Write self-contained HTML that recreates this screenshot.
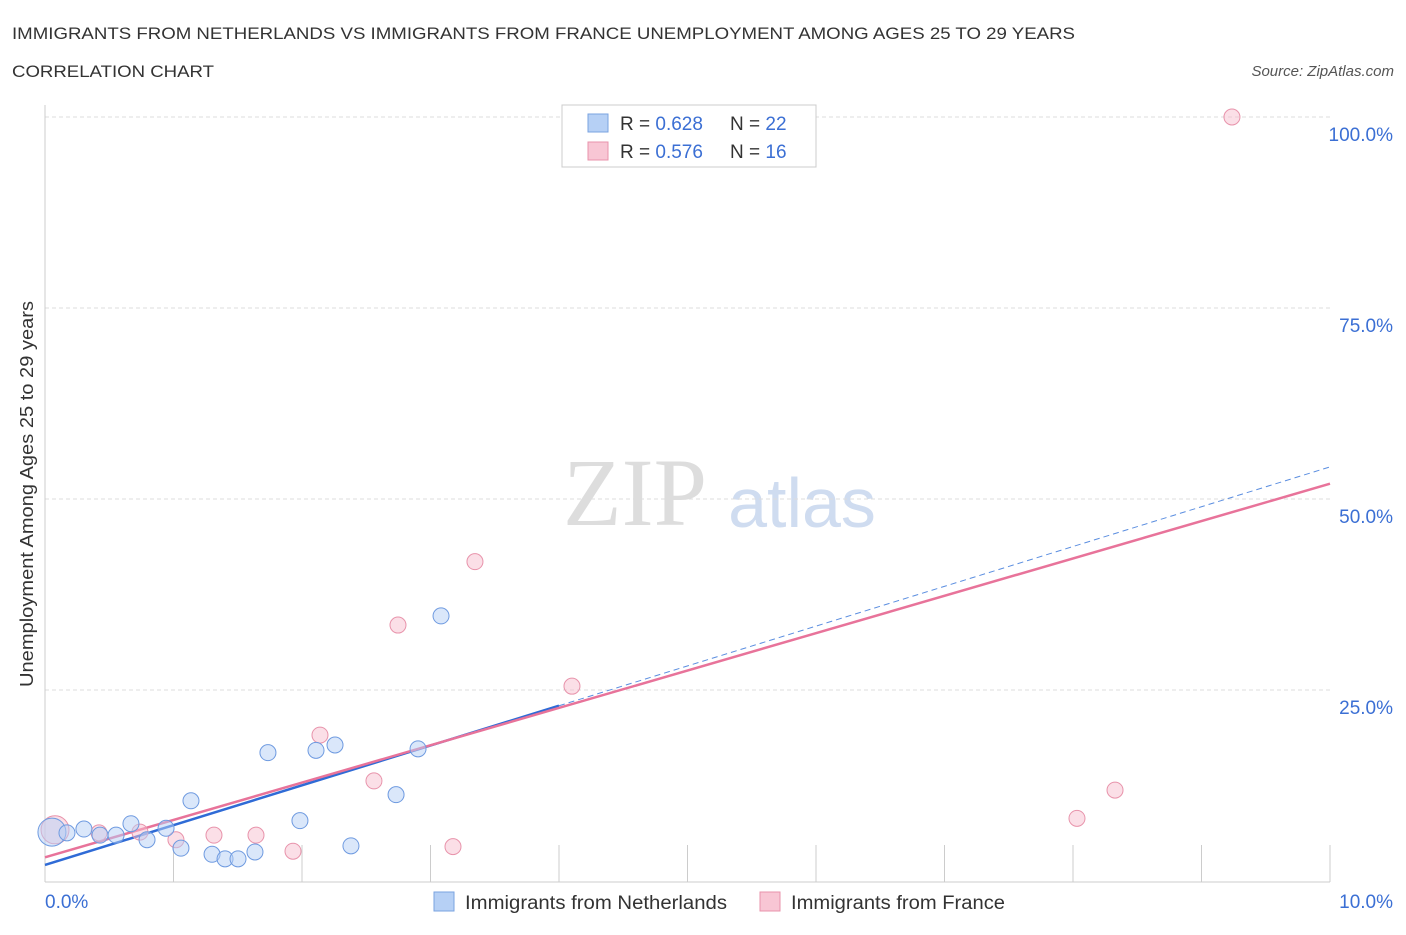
<!DOCTYPE html>
<html><head><meta charset="utf-8"><style>
body{margin:0;background:#fff;font-family:"Liberation Sans",sans-serif;}
</style></head><body>
<svg width="1406" height="930" viewBox="0 0 1406 930" font-family="Liberation Sans, sans-serif">
<text x="12" y="39" font-size="17" fill="#333" textLength="1063" lengthAdjust="spacingAndGlyphs">IMMIGRANTS FROM NETHERLANDS VS IMMIGRANTS FROM FRANCE UNEMPLOYMENT AMONG AGES 25 TO 29 YEARS</text>
<text x="12" y="77" font-size="17" fill="#333" textLength="202" lengthAdjust="spacingAndGlyphs">CORRELATION CHART</text>
<text x="1394" y="76" font-size="15" fill="#555" font-style="italic" text-anchor="end">Source: ZipAtlas.com</text>
<text x="635" y="525" font-size="96" fill="#ddd" style="font-family:'Liberation Serif',serif" text-anchor="middle">ZIP</text>
<text x="802" y="527" font-size="70" fill="#cfdcf0" text-anchor="middle">atlas</text>
<g id="grid"></g>
<line x1="45" y1="105" x2="45" y2="882" stroke="#ccc"/>
<line x1="45" y1="882" x2="1330" y2="882" stroke="#ccc"/>
<g id="xticks"></g>
<text transform="translate(33,494) rotate(-90)" font-size="18" fill="#333" text-anchor="middle" textLength="386" lengthAdjust="spacingAndGlyphs">Unemployment Among Ages 25 to 29 years</text>
<text x="45" y="908" font-size="19" fill="#3b6fd4">0.0%</text>
<text x="1393" y="908" font-size="19" fill="#3b6fd4" text-anchor="end">10.0%</text>
<g id="lines"></g>
<g id="points"></g>
<g>
<rect x="562" y="105" width="254" height="62" fill="#fff" stroke="#ccc"/>
<rect x="588" y="114" width="20" height="18" fill="#b6d0f5" stroke="#7aa3e0"/>
<rect x="588" y="142" width="20" height="18" fill="#f8c6d4" stroke="#e893ab"/>
<text x="620" y="130" font-size="19" fill="#333">R = <tspan fill="#3b6fd4">0.628</tspan></text>
<text x="730" y="130" font-size="19" fill="#333">N = <tspan fill="#3b6fd4">22</tspan></text>
<text x="620" y="158" font-size="19" fill="#333">R = <tspan fill="#3b6fd4">0.576</tspan></text>
<text x="730" y="158" font-size="19" fill="#333">N = <tspan fill="#3b6fd4">16</tspan></text>
</g>
<g>
<rect x="434" y="892" width="20" height="19" fill="#b6d0f5" stroke="#7aa3e0"/>
<text x="465" y="909" font-size="19" fill="#333" textLength="262" lengthAdjust="spacingAndGlyphs">Immigrants from Netherlands</text>
<rect x="760" y="892" width="20" height="19" fill="#f8c6d4" stroke="#e893ab"/>
<text x="791" y="909" font-size="19" fill="#333" textLength="214" lengthAdjust="spacingAndGlyphs">Immigrants from France</text>
</g>
</svg>
<script>
const yTicks=[25,50,75,100];
const yTickLabels=["25.0%","50.0%","75.0%","100.0%"];
const xTicks=[0,1,2,3,4,5,6,7,8,9,10];
const nlX=[0.054,0.171,0.303,0.428,0.553,0.669,0.794,0.942,1.058,1.136,1.300,1.401,1.502,1.634,1.735,1.984,2.109,2.257,2.381,2.732,2.903,3.082];
const nlY=[6.4,6.3,6.8,6.0,6.0,7.5,5.4,6.9,4.3,10.5,3.5,2.9,2.9,3.8,16.8,7.9,17.1,17.8,4.6,11.3,17.3,34.7];
const frX=[0.078,0.420,0.739,1.019,1.315,1.642,1.930,2.140,2.560,2.747,3.175,3.346,4.101,8.031,8.327,9.237];
const frY=[6.7,6.3,6.4,5.4,6.0,6.0,3.9,19.1,13.1,33.5,4.5,41.8,25.5,8.2,11.9,100];
const nlTrend=[2.1,5.21];
const frTrend=[3.1,4.89];
const NS="http://www.w3.org/2000/svg";
const sx=v=>45+v*128.5, sy=v=>881-v*7.64;
function mk(tag,at,parent){const e=document.createElementNS(NS,tag);for(const k in at)e.setAttribute(k,at[k]);document.getElementById(parent).appendChild(e);return e;}
yTicks.forEach((t,i)=>{
 const l=mk('line',{x1:45,x2:1330,y1:sy(t),y2:sy(t),stroke:'#ddd','stroke-dasharray':'4,3'},'grid');
 
 
 const tx=mk('text',{x:1393,y:sy(t)+24,'font-size':19,fill:'#3b6fd4','text-anchor':'end'},'grid');
 tx.textContent=yTickLabels[i];
 
 
});
xTicks.forEach(t=>{
 const l=mk('line',{x1:sx(t),x2:sx(t),y1:845,y2:882,stroke:'#ccc'},'xticks');
 
 
});
let a=mk('line',{x1:sx(0),y1:sy(nlTrend[0]),x2:sx(4),y2:sy(nlTrend[0]+4*nlTrend[1]),stroke:'#2f6bd6','stroke-width':2.5},'lines');


a=mk('line',{x1:sx(4),y1:sy(nlTrend[0]+4*nlTrend[1]),x2:sx(10),y2:sy(nlTrend[0]+10*nlTrend[1]),stroke:'#5b8ee0','stroke-width':1,'stroke-dasharray':'6,4'},'lines');


a=mk('line',{x1:sx(0),y1:sy(frTrend[0]),x2:sx(10),y2:sy(frTrend[0]+10*frTrend[1]),stroke:'#e8739a','stroke-width':2.5},'lines');


function pts(X,Y,fill,stroke,name){X.forEach((x,i)=>{
 const c=mk('circle',{cx:sx(x),cy:sy(Y[i]),r:i==0?14:8,fill:fill,stroke:stroke,'stroke-width':1,'fill-opacity':0.5},'points');
 
 
});}
pts(frX,frY,'#f8c0d0','#e893ab','france-point');
pts(nlX,nlY,'#b6d0f5','#6e9ae0','netherlands-point');
</script>
</body></html>
